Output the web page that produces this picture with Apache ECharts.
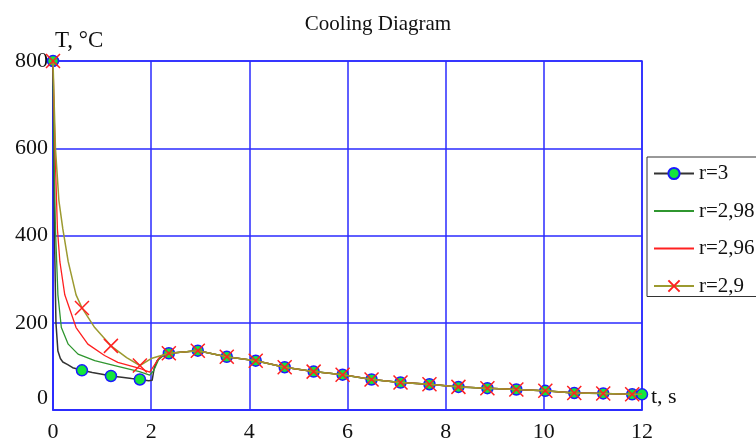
<!DOCTYPE html>
<html>
<head>
<meta charset="utf-8">
<script src="https://cdn.jsdelivr.net/npm/echarts@6/dist/echarts.min.js"></script>
<style>html,body{margin:0;padding:0;background:#fff;}#c{width:756px;height:443px;}</style>
</head>
<body>
<div id="c"></div>
<script>
// ---- data ----
const seriesNames = ['r=3', 'r=2,98', 'r=2,96', 'r=2,9'];
const markTimes = [0, 0.59, 1.18, 1.77, 2.36, 2.95, 3.54, 4.13, 4.72, 5.31, 5.9, 6.49, 7.08, 7.67, 8.26, 8.85, 9.44, 10.03, 10.62, 11.21, 11.8, 12];
const crossTimes = [0, 0.59, 1.18, 1.77, 2.36, 2.95, 3.54, 4.13, 4.72, 5.31, 5.9, 6.49, 7.08, 7.67, 8.26, 8.85, 9.44, 10.03, 10.62, 11.21, 11.8];
const tailTimes = [2.36, 2.95, 3.54, 4.13, 4.72, 5.31, 5.9, 6.49, 7.08, 7.67, 8.26, 8.85, 9.44, 10.03, 10.62, 11.21, 11.8, 12];
const tailValues = [130, 136, 122, 113, 98, 88, 81, 70, 63, 59, 53, 50, 47, 44, 39, 38, 36, 36];

const r3T = [0, 0.03, 0.06, 0.1, 0.15, 0.2, 0.3, 0.4, 0.59, 0.8, 1.0, 1.18, 1.4, 1.6, 1.77, 1.95, 2.02, 2.06, 2.12, 2.2];
const r3V = [800, 400, 200, 135, 118, 110, 104, 97, 91, 86, 82, 78, 75, 72, 70, 67, 68, 95, 113, 122];
const r298T = [0, 0.02, 0.05, 0.1, 0.17, 0.31, 0.51, 0.85, 1.32, 1.76, 1.97, 2.05, 2.15, 2.25];
const r298V = [800, 600, 415, 264, 189, 151, 128, 113, 100, 88, 80, 90, 115, 125];
const r296T = [0, 0.04, 0.09, 0.14, 0.24, 0.47, 0.71, 1.05, 1.32, 1.8, 1.97, 2.05, 2.15, 2.25];
const r296V = [800, 600, 415, 340, 264, 189, 151, 125, 109, 94, 87, 100, 118, 127];
const r29T = [0, 0.05, 0.12, 0.2, 0.31, 0.47, 0.59, 0.85, 1.18, 1.5, 1.77, 2.0];
const r29V = [800, 600, 480, 415, 340, 264, 234, 189, 147, 120, 102, 118];

const xTicks = [0, 2, 4, 6, 8, 10, 12];
const yTicks = [0, 200, 400, 600, 800];

// ---- build ----
const serif = '"Liberation Serif", "DejaVu Serif", serif';
function inList(list, t) { return list.some(m => Math.abs(m - t) < 1e-6); }
function build(ts, vs, marks) {
  const T = ts.concat(tailTimes), V = vs.concat(tailValues);
  return T.map((t, i) => marks ? (inList(marks, t) ? { value: [t, V[i]] } : { value: [t, V[i]], symbol: 'none' }) : [t, V[i]]);
}
const cross = 'path://M0,0L10,10M10,0L0,10';

const chart = echarts.init(document.getElementById('c'), null, { renderer: 'canvas' });
chart.setOption({
  animation: false,
  backgroundColor: '#fff',
  title: {
    text: 'Cooling Diagram', left: 'center', top: 9,
    textStyle: { fontFamily: serif, fontSize: 21, fontWeight: 'normal', color: '#111' }
  },
  legend: {
    orient: 'vertical', left: 647, top: 157,
    padding: [6, 10, 0, 6], itemGap: 16.5, itemWidth: 40, itemHeight: 14,
    backgroundColor: '#fff', borderColor: '#333', borderWidth: 1,
    textStyle: { fontFamily: serif, fontSize: 21, color: '#111' },
    data: seriesNames
  },
  grid: { left: 53, right: 114, top: 61, bottom: 31, show: true, borderColor: '#2a2aff', borderWidth: 1.5 },
  xAxis: {
    type: 'value', min: xTicks[0], max: xTicks[xTicks.length - 1], interval: 2,
    name: 't, s', nameLocation: 'end', nameGap: 9,
    nameTextStyle: { fontFamily: serif, fontSize: 22, color: '#111', verticalAlign: 'bottom', padding: [0, 0, 2, 0] },
    axisLine: { lineStyle: { color: '#2a2aff', width: 1.5 } },
    axisTick: { show: false },
    axisLabel: { margin: 11, fontFamily: serif, fontSize: 22, color: '#111' },
    splitLine: { lineStyle: { color: '#2a2aff', width: 1.5 } }
  },
  yAxis: {
    type: 'value', min: yTicks[0], max: yTicks[yTicks.length - 1], interval: 200,
    name: 'T, °C', nameLocation: 'end', nameGap: 9,
    nameTextStyle: { fontFamily: serif, fontSize: 23, color: '#111', align: 'left', padding: [0, 0, 0, 2] },
    axisLine: { lineStyle: { color: '#2a2aff', width: 1.5 } },
    axisTick: { show: false },
    axisLabel: {
      margin: 5, fontFamily: serif, fontSize: 22, color: '#111',
      formatter: v => v === 0 ? '{z|0}' : String(v),
      rich: { z: { fontFamily: serif, fontSize: 22, color: '#111', padding: [0, 0, 23, 0] } }
    },
    splitLine: { lineStyle: { color: '#2a2aff', width: 1.5 } }
  },
  series: [
    {
      name: seriesNames[0], type: 'line', data: build(r3T, r3V, markTimes),
      showAllSymbol: true, symbol: 'circle', symbolSize: 11,
      lineStyle: { color: '#333', width: 1.5 },
      itemStyle: { color: '#14e63c', borderColor: '#1a1aff', borderWidth: 1.5 },
      emphasis: { disabled: true }, z: 2
    },
    {
      name: seriesNames[1], type: 'line', data: build(r298T, r298V, null),
      showSymbol: false, symbol: 'none',
      lineStyle: { color: '#2f962f', width: 1.3 },
      itemStyle: { color: 'rgba(0,0,0,0)', borderWidth: 0 },
      emphasis: { disabled: true }, z: 3
    },
    {
      name: seriesNames[2], type: 'line', data: build(r296T, r296V, null),
      showSymbol: false, symbol: 'none',
      lineStyle: { color: '#ff2020', width: 1.3 },
      itemStyle: { color: 'rgba(0,0,0,0)', borderWidth: 0 },
      emphasis: { disabled: true }, z: 4
    },
    {
      name: seriesNames[3], type: 'line', data: build(r29T, r29V, crossTimes),
      showAllSymbol: true, symbol: cross, symbolSize: 14,
      lineStyle: { color: '#9c9a30', width: 1.5 },
      itemStyle: { color: '#ff2020', borderColor: '#ff2020', borderWidth: 1.5 },
      emphasis: { disabled: true }, z: 5
    }
  ]
});
</script>
</body>
</html>
